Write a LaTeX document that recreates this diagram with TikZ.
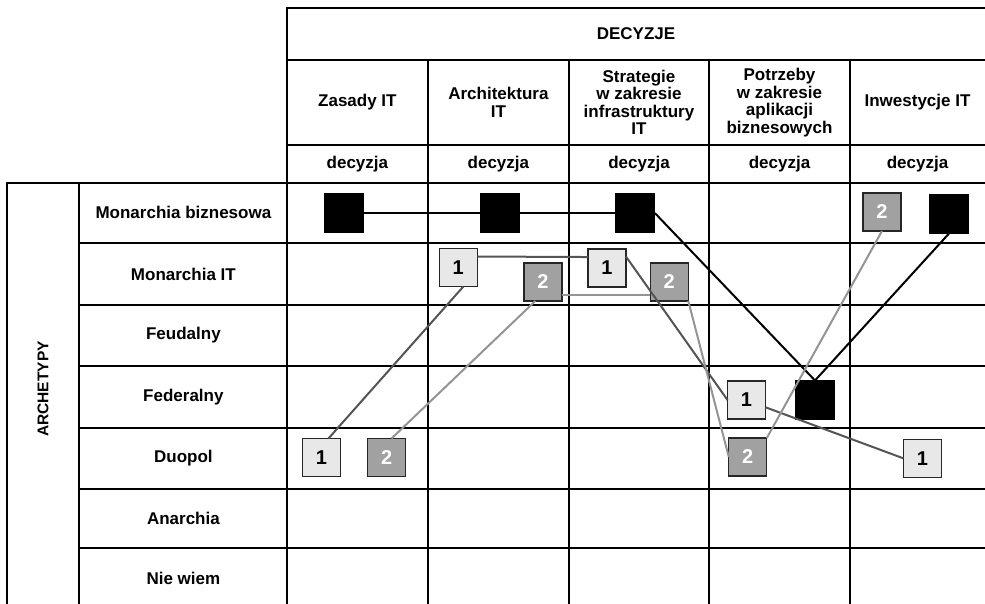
\documentclass[tikz,border=0pt]{standalone}
\usepackage{fontspec}
\setmainfont{Liberation Sans}
\begin{document}
\begin{tikzpicture}[x=1pt,y=-1pt,
  gridline/.style={line width=1.8pt, line cap=rect},
  txt/.style={font=\fontsize{17}{17.5}\selectfont\bfseries, align=center, inner sep=0pt},
  bsq/.style={draw=black, fill=black, minimum size=39pt, inner sep=0pt, outer sep=0pt, line width=1pt},
  lsq/.style={draw=black!85, fill=black!9, minimum size=38pt, inner sep=0pt, outer sep=0pt, line width=1.3pt, font=\fontsize{20}{20}\selectfont\bfseries},
  dsq/.style={draw=black!85, fill=black!37, text=white, minimum size=38pt, inner sep=0pt, outer sep=0pt, line width=1.3pt, font=\fontsize{20}{20}\selectfont\bfseries},
  conb/.style={line width=2pt, draw=black},
  conone/.style={line width=2pt, draw=black!67},
  contwo/.style={line width=2pt, draw=black!42},
]
\useasboundingbox (0,0) rectangle (985,604);
% ---- table grid ----
\draw[gridline] (287,8) -- (985,8);
\draw[gridline] (287,60) -- (985,60);
\draw[gridline] (287,145) -- (985,145);
\draw[gridline] (7,182.7) -- (985,182.7);
\foreach \yy in {242.7,305,366,427.7,489,547.7}
  \draw[gridline] (79,\yy) -- (985,\yy);
\draw[gridline] (287,8) -- (287,604);
\foreach \xx in {427.7,569,709,850}
  \draw[gridline] (\xx,60) -- (\xx,604);
\draw[gridline] (7,182.7) -- (7,604);
\draw[gridline] (79,182.7) -- (79,604);
% ---- header texts ----
\node[txt] (dec) at (636,34) {DECYZJE};
\node[txt] (h1) at (357.4,102.5) {Zasady IT};
\node[txt] (h2) at (498.4,102.5) {Architektura\\IT};
\node[txt] (h3) at (639,102.5) {Strategie\\w zakresie\\infrastruktury\\IT};
\node[txt] (h4) at (779.5,102.5) {Potrzeby\\w zakresie\\aplikacji\\biznesowych};
\node[txt] (h5) at (917.5,102.5) {Inwestycje IT};
\foreach \xx/\nm in {357.4/d1,498.4/d2,639/d3,779.5/d4,917.5/d5}
  \node[txt] (\nm) at (\xx,164) {decyzja};
% ---- row labels ----
\node[txt] (r1) at (183.4,212.7) {Monarchia biznesowa};
\node[txt] (r2) at (183.4,274) {Monarchia IT};
\node[txt] (r3) at (183.4,335.5) {Feudalny};
\node[txt] (r4) at (183.4,397) {Federalny};
\node[txt] (r5) at (183.4,458) {Duopol};
\node[txt] (r6) at (183.4,518) {Anarchia};
\node[txt] (r7) at (183.4,578) {Nie wiem};
\node[font=\fontsize{15.5}{15.5}\selectfont\bfseries, rotate=90, inner sep=0pt] (arch) at (43,389) {ARCHETYPY};
% ---- markers ----
\node[bsq] (bZ) at (344.3,213) {};
\node[bsq] (bA) at (500.3,213) {};
\node[bsq] (bS) at (635.3,213) {};
\node[bsq] (bI) at (949,214) {};
\node[bsq] (bF) at (815,400) {};
\node[lsq] (oA) at (458.3,267.5) {1};
\node[lsq] (oS) at (607,268) {1};
\node[lsq] (oP) at (746.5,400) {1};
\node[lsq] (oZ) at (321.5,457.5) {1};
\node[lsq] (oI) at (922.3,458.3) {1};
\node[dsq] (tA) at (543,282) {2};
\node[dsq] (tS) at (669.3,282) {2};
\node[dsq] (tZ) at (386.8,457.5) {2};
\node[dsq] (tP) at (747.8,457) {2};
\node[dsq] (tI) at (882,212) {2};
% ---- connectors ----
\draw[conb] (bZ.east) -- (bA.west);
\draw[conb] (bA.east) -- (bS.west);
\draw[conb] (bS.east) -- (bF.north);
\draw[conb] (bI.south) -- (bF.north);
\draw[conone] (oZ.70) -- (oA.-75);
\draw[conone] (oA.30) -- (oS.150);
\draw[conone] (oS.31) -- (oP.west);
\draw[conone] (oP.-21) -- (oI.west);
\draw[contwo] (tZ.76) -- (tA.-112);
\draw[contwo] (tA.-34) -- (tS.-146);
\draw[contwo] (tS.south east) -- (tP.west);
\draw[contwo] (tP.north east) -- (tI.south);
\end{tikzpicture}
\end{document}
